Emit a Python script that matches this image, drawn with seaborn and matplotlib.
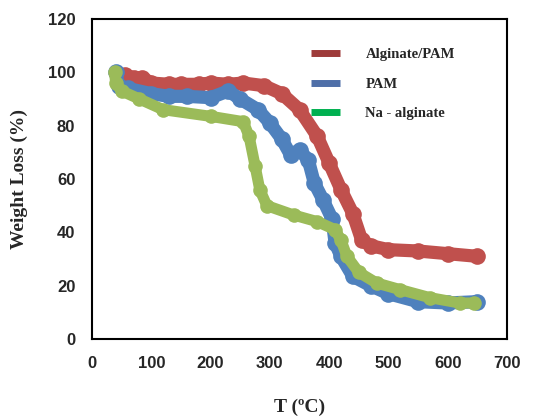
import matplotlib
matplotlib.use("Agg")
import matplotlib.pyplot as plt
from matplotlib.lines import Line2D
import seaborn as sns
import pandas as pd

# TGA curves
temp_alg_pam = [55, 70, 85, 100, 130, 150, 180, 200, 230, 255, 290, 320, 350, 380, 400, 420, 440, 455, 470, 500, 550, 600, 650]
wl_alg_pam = [99, 98, 98, 96, 95.5, 95.5, 95.5, 96, 95.5, 96, 95, 92, 86, 76, 66, 56, 47, 37, 35, 33.5, 33, 32, 31]

temp_pam = [40, 45, 60, 100, 130, 160, 200, 230, 250, 280, 300, 320, 335, 350, 365, 375, 390, 405, 410, 420, 440, 470, 500, 550, 600, 650]
wl_pam = [100, 95, 94, 92, 91, 91, 90.5, 93, 90, 86, 81, 75, 69, 71, 67, 58.5, 52, 45, 36, 31, 23.5, 20, 17, 14, 13.5, 14]

temp_na_alg = [38, 40, 50, 80, 120, 200, 255, 265, 275, 283, 295, 340, 380, 410, 420, 430, 450, 480, 520, 570, 620, 645]
wl_na_alg = [100, 96, 93, 90, 86, 83.5, 81.5, 76, 65, 56, 50, 46.5, 44, 41, 37, 31, 25, 21, 18.5, 15.5, 13.5, 13.5]

labels = ["Alginate/PAM", "PAM", "Na - alginate"]
line_colors = ["#C0504D", "#4F81BD", "#9BBB59"]
legend_colors = ["#9E3B3A", "#4F6FA8", "#00B050"]
line_widths = [9.5, 9.5, 8]

sns.set_style("white")

fig = plt.figure(figsize=(5.36, 4.16), dpi=100)
ax = fig.add_axes([92 / 536, 1 - 339 / 416, 415 / 536, 320 / 416])

series = [(temp_alg_pam, wl_alg_pam), (temp_pam, wl_pam), (temp_na_alg, wl_na_alg)]
for (t, w), c, lw in zip(series, line_colors, line_widths):
    df = pd.DataFrame({"T": t, "W": w})
    sns.lineplot(data=df, x="T", y="W", ax=ax, color=c, linewidth=lw,
                 marker="o", markersize=lw + 2.5, markeredgewidth=0, sort=False,
                 solid_capstyle="round", solid_joinstyle="round")

ax.set_xlim(0, 700)
ax.set_ylim(0, 120)
ax.set_xticks(range(0, 701, 100))
ax.set_yticks(range(0, 121, 20))
ax.tick_params(length=0, pad=12)
for lab in ax.get_xticklabels() + ax.get_yticklabels():
    lab.set_fontfamily("Liberation Sans")
    lab.set_fontweight("bold")
    lab.set_fontsize(12)

for s in ax.spines.values():
    s.set_color("black")
    s.set_linewidth(1.5)

ax.set_xlabel("T (ºC)", family="Liberation Serif", fontweight="bold", fontsize=14, labelpad=20)
ax.set_ylabel("Weight Loss (%)", family="Liberation Serif", fontweight="bold", fontsize=14, labelpad=14)

handles = [Line2D([0], [0], color=c, linewidth=5, solid_capstyle="butt") for c in legend_colors]
ax.legend(handles, labels, loc="upper left", bbox_to_anchor=(0.513, 0.927), borderaxespad=0,
          frameon=False, handlelength=2.0, handletextpad=1.75, labelspacing=1.12,
          prop={"family": "Liberation Serif", "weight": "bold", "size": 10.5})

fig.savefig("out.png", dpi=100)
